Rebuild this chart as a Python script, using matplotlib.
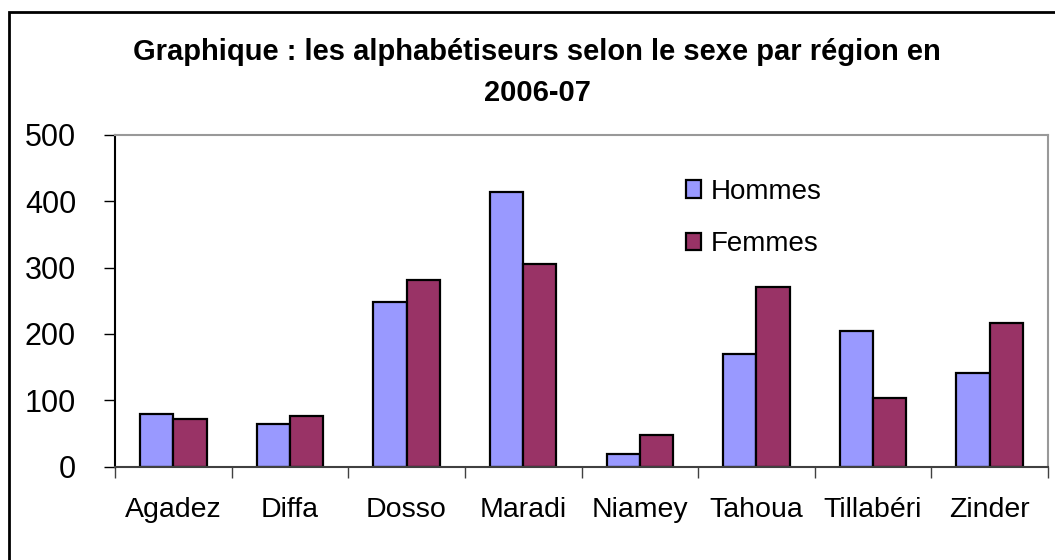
import matplotlib.pyplot as plt
import matplotlib.patches as patches
import numpy as np

plt.rcParams['font.family'] = ['Liberation Sans', 'DejaVu Sans']

regions = ['Agadez', 'Diffa', 'Dosso', 'Maradi', 'Niamey', 'Tahoua', 'Tillabéri', 'Zinder']
hommes = [79, 65, 248, 414, 19, 169, 205, 141]
femmes = [72, 76, 281, 306, 48, 270, 104, 216]

fig = plt.figure(figsize=(10.55, 5.6), dpi=100)
ax = fig.add_axes([115 / 1055, 1 - 466.7 / 560, 933 / 1055, 332 / 560])

x = np.arange(len(regions))
w = 0.285
ax.bar(x - w / 2, hommes, w, color='#9999FF', edgecolor='black', linewidth=1.6, label='Hommes')
ax.bar(x + w / 2, femmes, w, color='#993366', edgecolor='black', linewidth=1.6, label='Femmes')

ax.set_xlim(-0.5, len(regions) - 0.5)
ax.set_ylim(0, 500)
ax.set_yticks([0, 100, 200, 300, 400, 500])
ax.tick_params(axis='y', labelsize=22, length=8, width=1, pad=20, color='black')

ax.set_xticks(x)
ax.set_xticklabels(regions)
ax.set_xticks(np.arange(len(regions) + 1) - 0.5, minor=True)
ax.tick_params(axis='x', which='major', length=0, labelsize=20.5, pad=22)
ax.tick_params(axis='x', which='minor', length=8, width=1, color='#404040')

ax.spines['left'].set_color('black')
ax.spines['bottom'].set_color('#404040')
ax.spines['top'].set_color('#999999')
ax.spines['right'].set_color('#999999')
for s in ax.spines.values():
    s.set_linewidth(1.5)

ax.legend(loc='upper left', bbox_to_anchor=(0.6, 0.9), frameon=False, fontsize=20,
          handlelength=0.55, handleheight=0.6, handletextpad=0.35, labelspacing=0.95,
          borderaxespad=0)

fig.text(537 / 1055, 1 - 52 / 560, 'Graphique : les alphabétiseurs selon le sexe par région en',
         ha='center', va='center', fontsize=21, fontweight='bold')
fig.text(537 / 1055, 1 - 93 / 560, '2006-07', ha='center', va='center', fontsize=21, fontweight='bold')

frame = patches.Rectangle((9 / 1055, -0.1), 1.2, 1.1 - 12 / 560, transform=fig.transFigure,
                          fill=False, edgecolor='black', linewidth=2, clip_on=False)
fig.patches.append(frame)

fig.savefig('out.png', dpi=100)
